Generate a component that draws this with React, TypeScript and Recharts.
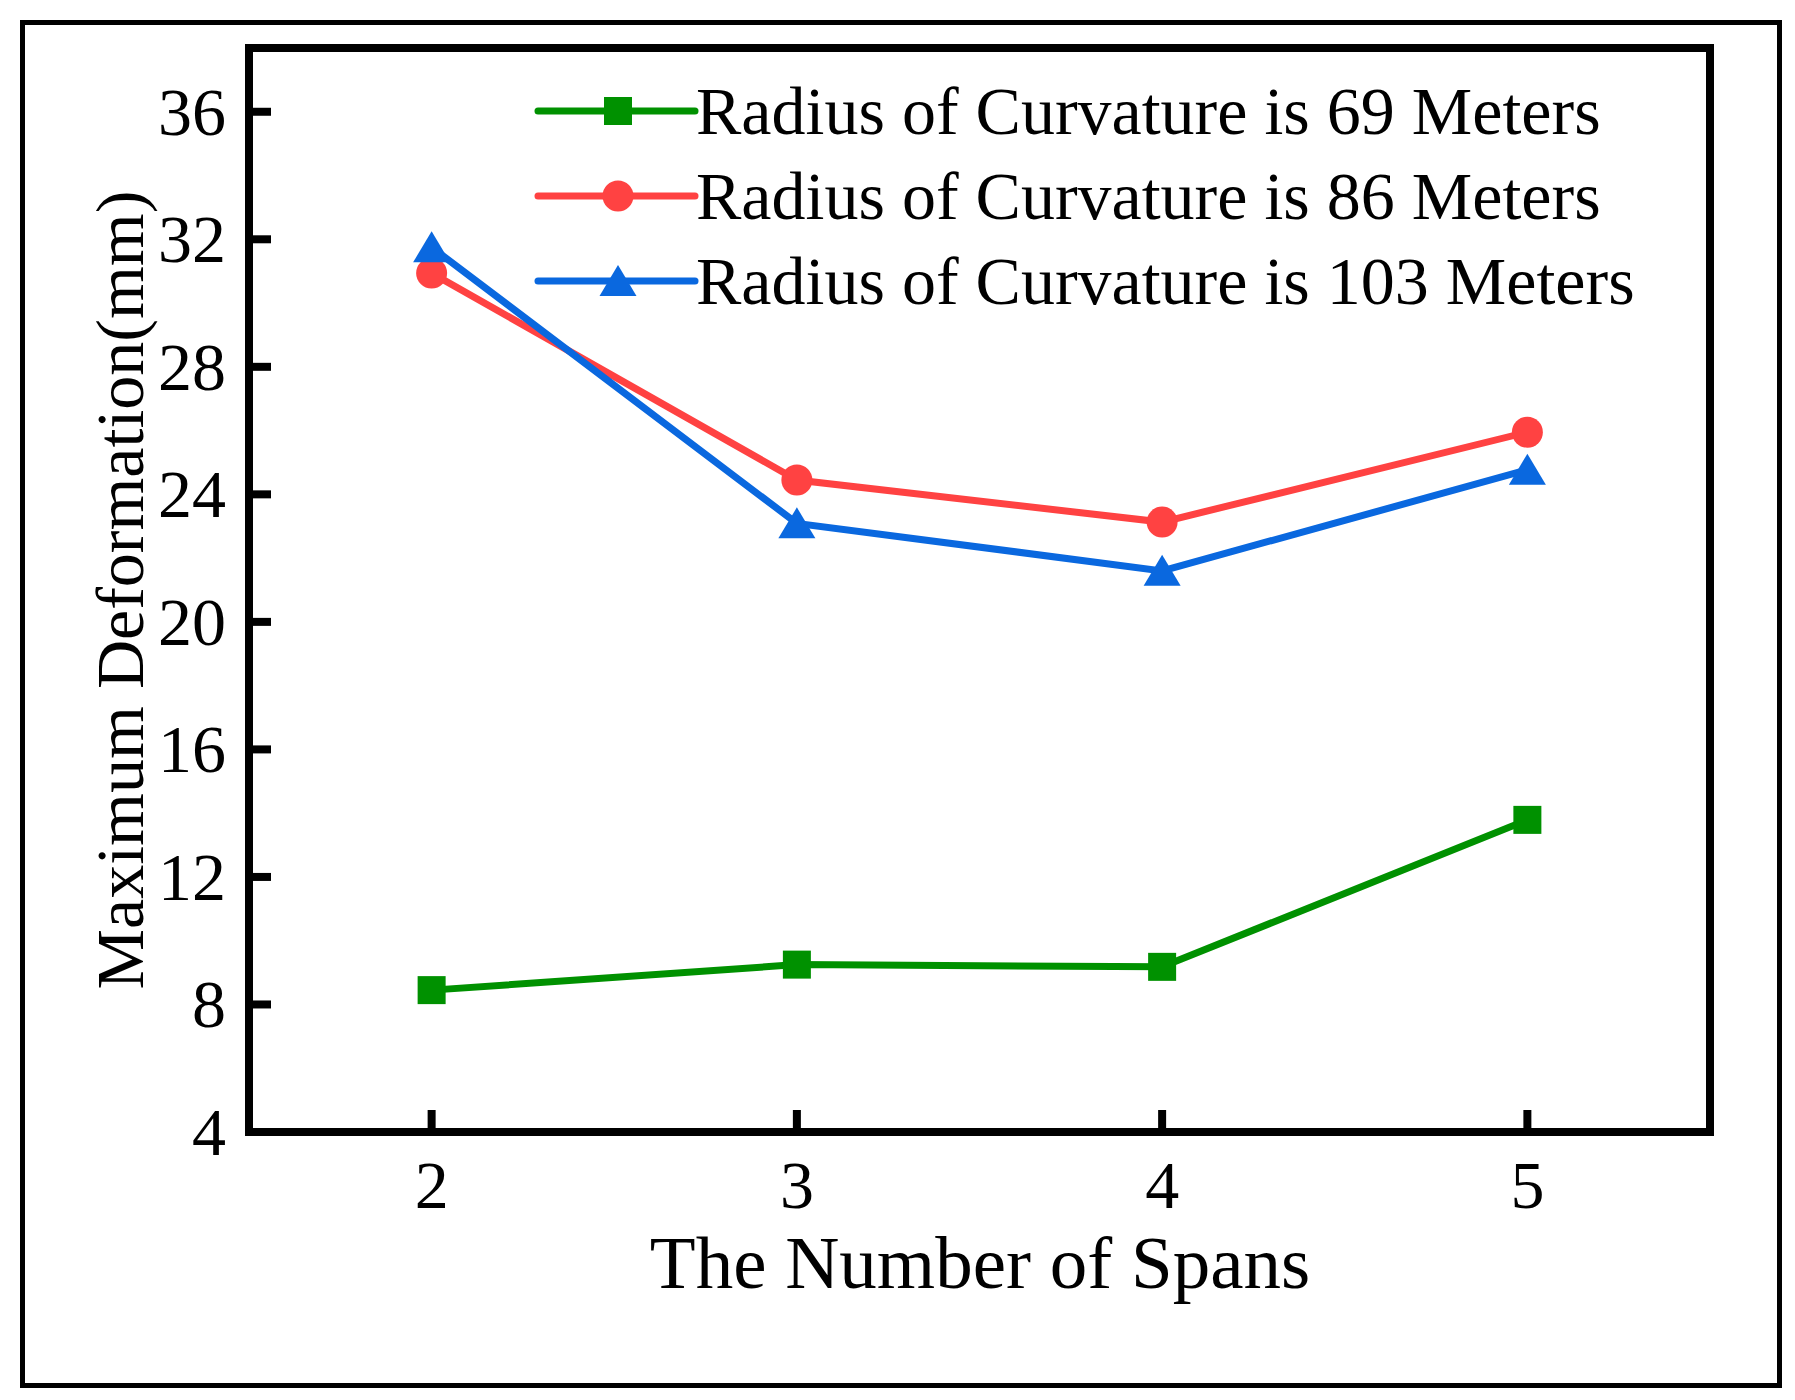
import React from 'react';
import { LineChart, Line, XAxis, YAxis, ReferenceArea, Legend } from 'recharts';

const spans = [2, 3, 4, 5];
const radius69 = [8.45, 9.25, 9.18, 13.79];
const radius86 = [30.94, 24.45, 23.13, 25.95];
const radius103 = [31.75, 23.09, 21.6, 24.77];
const yTicks = [4, 8, 12, 16, 20, 24, 28, 32, 36];

const seriesNames = [
  'Radius of Curvature is 69 Meters',
  'Radius of Curvature is 86 Meters',
  'Radius of Curvature is 103 Meters',
];
const colors = ['#009100', '#FF4242', '#0A68DF'];
const shapes = ['square', 'circle', 'triangle'];
const keys = ['r69', 'r86', 'r103'];

const data = spans.map((s, i) => ({
  span: s,
  r69: radius69[i],
  r86: radius86[i],
  r103: radius103[i],
}));

const FONT = '"Liberation Serif", "Times New Roman", serif';
const TICK_LEN = 22;

function Marker({ shape, cx, cy, color }: { shape: string; cx: number; cy: number; color: string }) {
  if (shape === 'square') {
    return <rect x={cx - 14} y={cy - 14} width={28} height={28} fill={color} />;
  }
  if (shape === 'circle') {
    return <circle cx={cx} cy={cy} r={15.5} fill={color} />;
  }
  return (
    <polygon
      points={`${cx},${cy - 16} ${cx + 18.5},${cy + 15} ${cx - 18.5},${cy + 15}`}
      fill={color}
    />
  );
}

const makeDot = (idx: number) => (props: any) => (
  <Marker
    key={`${keys[idx]}-${props.index}`}
    shape={shapes[idx]}
    cx={props.cx}
    cy={props.cy}
    color={colors[idx]}
  />
);

const BottomTick = (props: any) => {
  const { x, y, payload } = props;
  return (
    <g>
      <line x1={x} y1={y} x2={x} y2={y - TICK_LEN} stroke="#000" strokeWidth={8} />
      <text x={x} y={y + 76} textAnchor="middle" fontSize={68} fontFamily={FONT} fill="#000">
        {payload.value}
      </text>
    </g>
  );
};

const TopTick = (props: any) => {
  const { x, y } = props;
  return <line x1={x} y1={y} x2={x} y2={y + TICK_LEN} stroke="#000" strokeWidth={8} />;
};

const LeftTick = (props: any) => {
  const { x, y, payload } = props;
  return (
    <g>
      <line x1={x} y1={y} x2={x + TICK_LEN} y2={y} stroke="#000" strokeWidth={8} />
      <text x={x - 23} y={y + 23} textAnchor="end" fontSize={68} fontFamily={FONT} fill="#000">
        {payload.value}
      </text>
    </g>
  );
};

const RightTick = (props: any) => {
  const { x, y } = props;
  return <line x1={x} y1={y} x2={x - TICK_LEN} y2={y} stroke="#000" strokeWidth={8} />;
};

const xLabel = () => (
  <text x={980} y={1288} textAnchor="middle" fontSize={75} fontFamily={FONT} fill="#000">
    The Number of Spans
  </text>
);

const yLabel = () => (
  <text
    x={143}
    y={590}
    transform="rotate(-90 143 590)"
    textAnchor="middle"
    fontSize={68}
    fontFamily={FONT}
    fill="#000"
  >
    Maximum Deformation(mm)
  </text>
);

const renderLegend = () => (
  <svg width={1150} height={260}>
    {seriesNames.map((name, i) => {
      const cy = 51 + i * 85;
      return (
        <g key={name}>
          <line x1={8} y1={cy} x2={165} y2={cy} stroke={colors[i]} strokeWidth={7} strokeLinecap="round" />
          <Marker shape={shapes[i]} cx={88} cy={cy} color={colors[i]} />
          <text x={166} y={cy + 23} fontSize={68} fontFamily={FONT} fill="#000">
            {name}
          </text>
        </g>
      );
    })}
  </svg>
);

export default function App() {
  return (
    <div style={{ position: 'absolute', left: 0, top: 0, width: 1795, height: 1400, background: '#fff' }}>
      <div
        style={{
          position: 'absolute',
          left: 20,
          top: 20,
          width: 1762,
          height: 1368,
          border: '5px solid #000',
          boxSizing: 'border-box',
        }}
      />
      <LineChart width={1795} height={1400} data={data} margin={{ top: 48, right: 85, left: 0, bottom: 0 }}>
        <XAxis
          xAxisId="bottom"
          dataKey="span"
          type="number"
          domain={[1.5, 5.5]}
          ticks={spans}
          height={268}
          axisLine={false}
          tickLine={false}
          tickSize={0}
          tickMargin={0}
          tick={BottomTick}
          label={xLabel}
          allowDataOverflow
        />
        <XAxis
          xAxisId="top"
          orientation="top"
          dataKey="span"
          type="number"
          domain={[1.5, 5.5]}
          ticks={spans}
          height={0}
          axisLine={false}
          tickLine={false}
          tickSize={0}
          tickMargin={0}
          tick={TopTick}
          allowDataOverflow
        />
        <YAxis
          yAxisId="left"
          type="number"
          domain={[4, 38]}
          ticks={yTicks}
          width={249}
          axisLine={false}
          tickLine={false}
          tickSize={0}
          tickMargin={0}
          tick={LeftTick}
          label={yLabel}
          allowDataOverflow
        />
        <YAxis
          yAxisId="right"
          orientation="right"
          type="number"
          domain={[4, 38]}
          ticks={yTicks}
          width={0}
          axisLine={false}
          tickLine={false}
          tickSize={0}
          tickMargin={0}
          tick={RightTick}
          allowDataOverflow
        />
        <ReferenceArea
          xAxisId="bottom"
          yAxisId="left"
          x1={1.5}
          x2={5.5}
          y1={4}
          y2={38}
          fill="none"
          fillOpacity={0}
          stroke="#000"
          strokeWidth={8}
          ifOverflow="visible"
        />
        <Legend
          layout="vertical"
          align="center"
          verticalAlign="middle"
          content={renderLegend}
          wrapperStyle={{ position: 'absolute', left: 530, top: 60, width: 1150, height: 260 }}
        />
        {keys.map((k, i) => (
          <Line
            key={k}
            xAxisId="bottom"
            yAxisId="left"
            type="linear"
            dataKey={k}
            name={seriesNames[i]}
            stroke={colors[i]}
            strokeWidth={7}
            dot={makeDot(i)}
            activeDot={false}
            isAnimationActive={false}
          />
        ))}
      </LineChart>
    </div>
  );
}
